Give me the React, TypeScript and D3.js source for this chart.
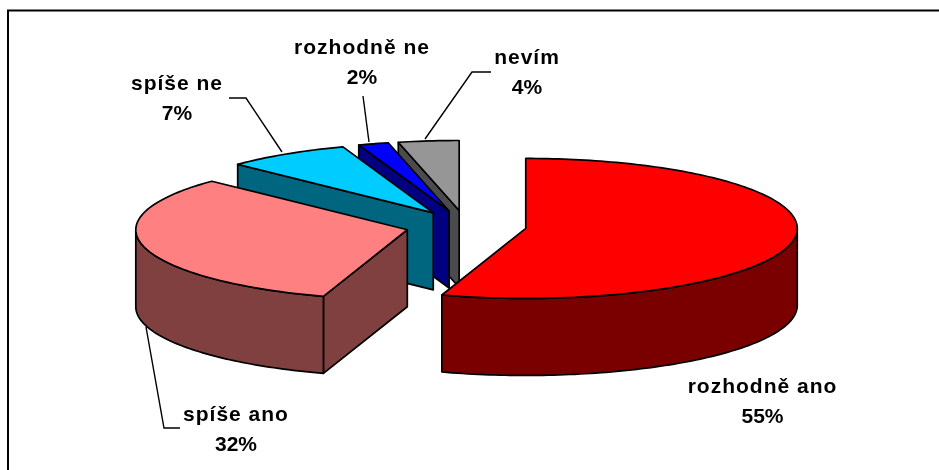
import React from "react";
import * as d3 from "d3";

const categories = ["rozhodně ano", "spíše ano", "spíše ne", "rozhodně ne", "nevím"];
const percents = [55, 32, 7, 2, 4];
const shares = [55.0, 32.2, 7.4, 1.8, 3.6];
const topColors = ["#ff0000", "#ff8080", "#00ccff", "#0000ff", "#969696"];
const sideColors = ["#7a0000", "#804040", "#006680", "#000080", "#4b4b4b"];

const W = 939, H = 470;
const CX = 466, CY = 226, RX = 271.5, RY = 70, DEPTH = 77, EXPLODE = 60.5;
const ky = RY / RX;

const labelPos: [number, number][] = [[762.5, 393], [236, 421], [177, 90], [362, 54], [527, 64]];
const leaders: [number, number][][] = [
  [],
  [[146, 327], [164, 428], [180, 428]],
  [[229, 98], [246, 98], [282, 152]],
  [[363, 96], [369, 142]],
  [[491, 72], [472, 72], [425, 139]],
];

type Pt = [number, number];
const line = d3.line<Pt>();

const slices = d3
  .pie<number>()
  .sort(null)
  .startAngle(0)
  .endAngle(2 * Math.PI)(shares);

function geom(i: number) {
  const s = slices[i];
  const mid = (s.startAngle + s.endAngle) / 2;
  const ax = CX + EXPLODE * Math.sin(mid);
  const ay = CY - EXPLODE * ky * Math.cos(mid);
  const at = (a: number, dz = 0): Pt => [ax + RX * Math.sin(a), ay - RY * Math.cos(a) + dz];
  const arc = (a0: number, a1: number, dz = 0): Pt[] => {
    const n = Math.max(2, Math.ceil(Math.abs(a1 - a0) / 0.02));
    return d3.range(n + 1).map((k) => at(a0 + ((a1 - a0) * k) / n, dz));
  };
  return { s, ax, ay, at, arc };
}

function Slice({ i }: { i: number }) {
  const { s, ax, ay, at, arc } = geom(i);
  const stroke = { stroke: "#000", strokeWidth: 1.7, strokeLinejoin: "round" as const };
  const top: Pt[] = [[ax, ay], ...arc(s.startAngle, s.endAngle)];
  const startFace: Pt[] = [[ax, ay], at(s.startAngle), at(s.startAngle, DEPTH), [ax, ay + DEPTH]];
  const wa0 = Math.max(s.startAngle, Math.PI / 2);
  const wa1 = Math.min(s.endAngle, (3 * Math.PI) / 2);
  const wall: Pt[] | null =
    wa1 > wa0 ? [...arc(wa0, wa1), ...arc(wa1, wa0, DEPTH)] : null;
  return (
    <g>
      {s.startAngle > 0 && <path d={line(startFace) + "Z"} fill={sideColors[i]} {...stroke} />}
      {wall && <path d={line(wall) + "Z"} fill={sideColors[i]} {...stroke} />}
      <path d={line(top) + "Z"} fill={topColors[i]} {...stroke} />
    </g>
  );
}

export default function App() {
  const order = [4, 3, 2, 1, 0];
  return (
    <svg
      width={W}
      height={H}
      viewBox={`0 0 ${W} ${H}`}
      style={{ position: "absolute", left: 0, top: 0, background: "#fff" }}
    >
      <defs>
        <filter id="soft" x="-5%" y="-20%" width="110%" height="140%">
          <feGaussianBlur stdDeviation="0.45" />
        </filter>
      </defs>
      <path d={`M8 ${H}V10.5H${W}`} fill="none" stroke="#000" strokeWidth={2} />
      {order.map((i) => (
        <Slice key={i} i={i} />
      ))}
      {leaders.map((pts, i) =>
        pts.length ? (
          <path key={i} d={line(pts as Pt[]) ?? ""} fill="none" stroke="#000" strokeWidth={1.4} />
        ) : null
      )}
      <g
        filter="url(#soft)"
        fontFamily="'Liberation Sans', Arial, sans-serif"
        fontWeight="bold"
        fontSize={21}
        textAnchor="middle"
        fill="#000"
      >
        {categories.map((c, i) => (
          <g key={c}>
            <text x={labelPos[i][0]} y={labelPos[i][1]} letterSpacing={1}>
              {c}
            </text>
            <text x={labelPos[i][0]} y={labelPos[i][1] + 30}>
              {percents[i]}%
            </text>
          </g>
        ))}
      </g>
    </svg>
  );
}
